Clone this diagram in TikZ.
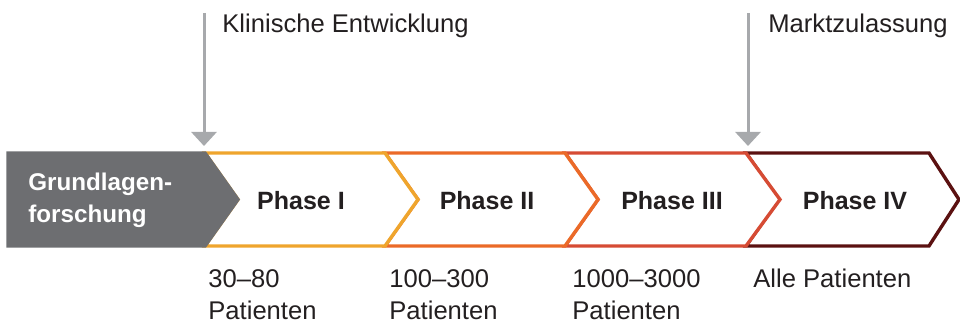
\documentclass[tikz,border=0pt]{standalone}
\usepackage{fontspec}
\setmainfont{Liberation Sans}
\usetikzlibrary{arrows.meta}
\definecolor{basegrey}{RGB}{109,110,113}
\definecolor{arrowgrey}{RGB}{167,169,172}
\definecolor{phaseone}{RGB}{239,165,45}
\definecolor{phasetwo}{RGB}{235,106,40}
\definecolor{phasethree}{RGB}{214,75,52}
\definecolor{phasefour}{RGB}{91,17,17}
\definecolor{inkgrey}{RGB}{35,31,32}

\begin{document}
\begin{tikzpicture}[x=0.5pt, y=-0.5pt,
    chev/.style={line width=1.7pt, fill=white, line join=miter},
    ph/.style={font=\bfseries\fontsize{12.5}{14}\selectfont, text=inkgrey, anchor=base, inner sep=0pt},
    grund/.style={font=\bfseries\fontsize{12.1}{14}\selectfont, text=white, anchor=base west, inner sep=0pt},
    lab/.style={font=\fontsize{12.8}{16}\selectfont, text=inkgrey, anchor=base west, inner sep=0pt},
    mile/.style={draw=arrowgrey, line width=1.5pt, -{Triangle[width=12.5pt,length=7pt]}}
]
\useasboundingbox (0,0) rectangle (960,325);

% phase chevrons, drawn right to left so each right edge stays on top
\foreach \L/\R/\d/\col in {746/929/30/phasefour, 565/746/34/phasethree, 385/565/33/phasetwo, 205/385/33/phaseone}
    \draw[chev, draw=\col] (\L,153) -- (\R,153) -- ({\R+\d},199.5) -- (\R,246) -- (\L,246) -- ({\L+33},199.5) -- cycle;

% basic research block
\filldraw[basegrey, line width=1.7pt] (8,153) -- (205,153) -- (238,199.5) -- (205,246) -- (8,246) -- cycle;
\node[grund] (grundA) at (28,191) {Grundlagen-};
\node[grund] (grundB) at (28,223) {forschung};

\foreach \i/\x/\lab in {1/301/Phase I, 2/487/Phase II, 3/672/Phase III, 4/855/Phase IV}
    \node[ph] (ph\i) at (\x,210) {\lab};

% milestones
\coordinate (klin) at (204,13);
\coordinate (klinEnd) at (204,146);
\coordinate (markt) at (748,13);
\coordinate (marktEnd) at (748,146);
\draw[mile] (klin) -- (klinEnd);
\draw[mile] (markt) -- (marktEnd);
\node[lab] (klinLab) at (222,33) {Klinische Entwicklung};
\node[lab] (marktLab) at (768,33) {Marktzulassung};

% patient numbers
\foreach \i/\x/\num in {1/208/30–80, 2/389/100–300, 3/572/1000–3000} {
    \node[lab] (cnt\i) at (\x,288) {\num};
    \node[lab] (pat\i) at (\x,320) {Patienten};
}
\node[lab] (alle) at (753,288) {Alle Patienten};
\end{tikzpicture}
\end{document}
